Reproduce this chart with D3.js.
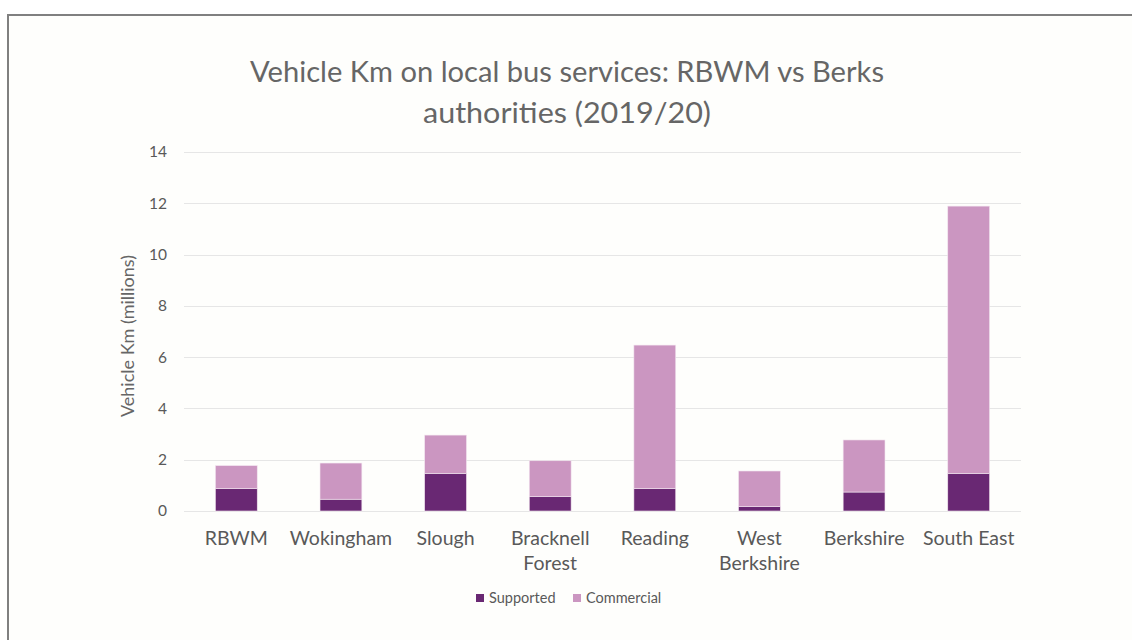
<!DOCTYPE html>
<html>
<head>
<meta charset="utf-8">
<script src="https://cdn.jsdelivr.net/npm/d3@7"></script>
<style>
  body { margin: 0; background: #ffffff; }
  svg { display: block; }
  .axis text { fill: #595959; }
</style>
</head>
<body>
<svg id="chart" width="1132" height="640"></svg>
<script>
// Chart data
const categories = ["RBWM", "Wokingham", "Slough", "Bracknell\nForest", "Reading", "West\nBerkshire", "Berkshire", "South East"];
const supported = [0.87, 0.46, 1.47, 0.56, 0.87, 0.17, 0.74, 1.47];
const commercial = [0.90, 1.41, 1.49, 1.40, 5.60, 1.39, 2.03, 10.42];
const seriesNames = ["Supported", "Commercial"];
const seriesColors = ["#692873", "#cb96c1"];
const yTicks = [0, 2, 4, 6, 8, 10, 12, 14];

const svg = d3.select("#chart");
const width = 1132, height = 640;
const margin = { top: 152, right: 111, bottom: 129, left: 184 };

// Outer frame of the chart area
svg.append("rect")
    .attr("x", 8).attr("y", 15)
    .attr("width", width + 10).attr("height", height + 10)
    .attr("fill", "#fefefc")
    .attr("stroke", "#808080")
    .attr("stroke-width", 2);

const x = d3.scaleBand()
    .domain(categories)
    .range([margin.left, width - margin.right])
    .paddingInner(0.6)
    .paddingOuter(0.3);

const y = d3.scaleLinear()
    .domain([0, 14])
    .range([height - margin.bottom, margin.top]);

// Gridlines
svg.append("g")
    .selectAll("line")
    .data(yTicks)
    .join("line")
    .attr("x1", margin.left)
    .attr("x2", width - margin.right)
    .attr("y1", d => Math.round(y(d)) + 0.5)
    .attr("y2", d => Math.round(y(d)) + 0.5)
    .attr("stroke", "#e6e6e6")
    .attr("stroke-width", 1);

// Y axis labels
const yAxis = svg.append("g")
    .attr("class", "axis")
    .attr("transform", `translate(${margin.left}, 0)`)
    .call(d3.axisLeft(y).tickValues(yTicks).tickSize(0).tickPadding(17));
yAxis.select(".domain").remove();
yAxis.selectAll("text")
    .attr("font-family", "Lato, 'Noto Sans', sans-serif")
    .attr("font-size", 15.5);

// Stacked series
const rows = categories.map((c, i) => ({ cat: c, Supported: supported[i], Commercial: commercial[i] }));
const stacked = d3.stack().keys(seriesNames)(rows);

svg.append("g")
    .selectAll("g")
    .data(stacked)
    .join("g")
    .attr("fill", (d, i) => seriesColors[i])
    .selectAll("rect")
    .data(d => d)
    .join("rect")
    .attr("x", d => x(d.data.cat))
    .attr("width", x.bandwidth())
    .attr("y", d => y(d[1]))
    .attr("height", d => y(d[0]) - y(d[1]))
    .attr("stroke", "#f3e6f0")
    .attr("stroke-width", 0.6);

// X axis labels (may wrap onto two lines)
const xAxis = svg.append("g")
    .attr("class", "axis")
    .attr("transform", `translate(0, ${height - margin.bottom})`)
    .call(d3.axisBottom(x).tickSize(0).tickFormat(""));
xAxis.select(".domain").remove();
xAxis.selectAll(".tick").each(function (d) {
    const t = d3.select(this).append("text")
        .attr("fill", "#666666")
        .attr("font-family", "Lato, 'Noto Sans', sans-serif")
        .attr("font-size", 19.5)
        .attr("text-anchor", "middle");
    d.split("\n").forEach((line, i) => {
        t.append("tspan").attr("x", 0).attr("y", 34 + i * 25).text(line);
    });
});

// Axis title
svg.append("text")
    .attr("transform", "translate(134, 336) rotate(-90)")
    .attr("text-anchor", "middle")
    .attr("fill", "#666666")
    .attr("font-family", "Lato, 'Noto Sans', sans-serif")
    .attr("font-size", 18)
    .text("Vehicle Km (millions)");

// Title, fitted to the width of the original lines
const titleLines = [
    { text: "Vehicle Km on local bus services: RBWM vs Berks", y: 82, w: 634 },
    { text: "authorities (2019/20)", y: 123, w: 288 }
];
titleLines.forEach(l => {
    svg.append("text")
        .attr("x", 567)
        .attr("y", l.y)
        .attr("text-anchor", "middle")
        .attr("fill", "#666666")
        .attr("font-family", "Lato, 'Noto Sans', sans-serif")
        .attr("font-size", 29)
        .attr("textLength", l.w)
        .attr("lengthAdjust", "spacingAndGlyphs")
        .text(l.text);
});

// Legend
const legend = svg.append("g").attr("transform", "translate(476, 598)");
const legendX = [0, 97];
seriesNames.forEach((name, i) => {
    const g = legend.append("g").attr("transform", `translate(${legendX[i]}, 0)`);
    g.append("rect")
        .attr("x", 0).attr("y", -4)
        .attr("width", 8).attr("height", 8)
        .attr("fill", seriesColors[i]);
    g.append("text")
        .attr("x", 13)
        .attr("dy", "0.35em")
        .attr("fill", "#595959")
        .attr("font-family", "Lato, 'Noto Sans', sans-serif")
        .attr("font-size", 14.5)
        .text(name);
});
</script>
</body>
</html>
